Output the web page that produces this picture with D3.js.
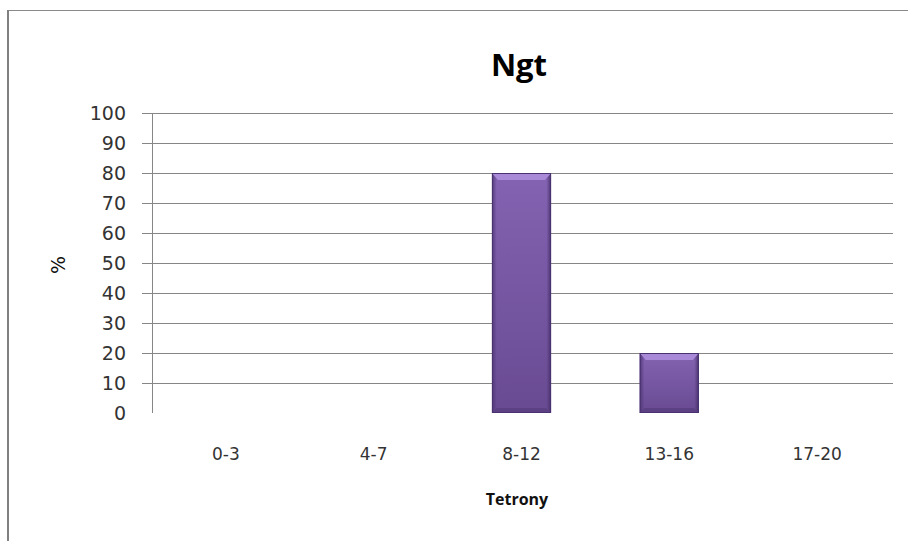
<!DOCTYPE html>
<html>
<head>
<meta charset="utf-8">
<script src="https://cdn.jsdelivr.net/npm/d3@7"></script>
<style>
  body { margin: 0; background: #fff; }
  svg { display: block; }
</style>
</head>
<body>
<svg width="908" height="541"></svg>
<script>
// data
const categories = ["0-3", "4-7", "8-12", "13-16", "17-20"]
const percent = [0, 0, 80, 20, 0]
const yTicks = [0, 10, 20, 30, 40, 50, 60, 70, 80, 90, 100]

let svg = d3.select("svg")

// frame of the chart box (only top and left edges are visible)
svg.append("line")
  .attr("x1", 7).attr("x2", 908).attr("y1", 10.5).attr("y2", 10.5)
  .attr("stroke", "#8a8a8a").attr("stroke-width", 1)
svg.append("line")
  .attr("x1", 8).attr("x2", 8).attr("y1", 10).attr("y2", 541)
  .attr("stroke", "#808080").attr("stroke-width", 2)

let plotLeft = 152, plotRight = 891, plotTop = 113, plotBottom = 413

let x = d3.scaleBand()
  .domain(categories)
  .range([plotLeft, plotRight])
  .paddingInner(0.6)
  .paddingOuter(0.3)

let y = d3.scaleLinear()
  .domain([0, 100])
  .range([plotBottom, plotTop])

// gridlines + ticks
let g = svg.append("g")
g.selectAll("line.grid")
  .data(yTicks.filter(d => d > 0))
  .join("line")
  .attr("class", "grid")
  .attr("x1", plotLeft - 10)
  .attr("x2", plotRight + 2)
  .attr("y1", d => Math.round(y(d)) + 0.5)
  .attr("y2", d => Math.round(y(d)) + 0.5)
  .attr("stroke", "#868686")
  .attr("stroke-width", 1)

g.append("line")
  .attr("x1", plotLeft + 0.5).attr("x2", plotLeft + 0.5)
  .attr("y1", y(100)).attr("y2", y(0))
  .attr("stroke", "#868686")

g.selectAll("text.ylab")
  .data(yTicks)
  .join("text")
  .attr("class", "ylab")
  .attr("x", 126)
  .attr("y", d => y(d) + 7)
  .attr("text-anchor", "end")
  .attr("font-family", "DejaVu Sans")
  .attr("font-size", "19px")
  .attr("fill", "#333")
  .text(d => d)

// bars
let defs = svg.append("defs")
let grad = defs.append("linearGradient")
  .attr("id", "barFill")
  .attr("x1", 0).attr("x2", 0).attr("y1", 0).attr("y2", 1)
grad.append("stop").attr("offset", "0%").attr("stop-color", "#8463b2")
grad.append("stop").attr("offset", "100%").attr("stop-color", "#684a92")

let side = defs.append("linearGradient")
  .attr("id", "barSide")
  .attr("x1", 0).attr("x2", 1).attr("y1", 0).attr("y2", 0)
side.append("stop").attr("offset", "0%").attr("stop-color", "#4e3675").attr("stop-opacity", 0.9)
side.append("stop").attr("offset", "8%").attr("stop-color", "#4e3675").attr("stop-opacity", 0)
side.append("stop").attr("offset", "92%").attr("stop-color", "#4e3675").attr("stop-opacity", 0)
side.append("stop").attr("offset", "100%").attr("stop-color", "#3f2a60").attr("stop-opacity", 0.9)

let barData = categories.map((c, i) => ({ cat: c, val: percent[i] })).filter(d => d.val > 0)

let bars = svg.append("g").selectAll("g")
  .data(barData)
  .join("g")

bars.append("rect")
  .attr("x", d => x(d.cat))
  .attr("y", d => y(d.val))
  .attr("width", x.bandwidth())
  .attr("height", d => y(0) - y(d.val))
  .attr("fill", "url(#barFill)")

bars.append("rect")
  .attr("x", d => x(d.cat))
  .attr("y", d => y(d.val))
  .attr("width", x.bandwidth())
  .attr("height", d => y(0) - y(d.val))
  .attr("fill", "url(#barSide)")

// top bevel
bars.append("path")
  .attr("d", d => {
    let x0 = x(d.cat), x1 = x0 + x.bandwidth(), t = y(d.val)
    return "M" + x0 + "," + t + "L" + x1 + "," + t + "L" + (x1 - 6) + "," + (t + 7) + "L" + (x0 + 6) + "," + (t + 7) + "Z"
  })
  .attr("fill", "#a98ad8")

// bottom bevel
bars.append("path")
  .attr("d", d => {
    let x0 = x(d.cat), x1 = x0 + x.bandwidth(), b = y(0)
    return "M" + x0 + "," + b + "L" + x1 + "," + b + "L" + (x1 - 5) + "," + (b - 5) + "L" + (x0 + 5) + "," + (b - 5) + "Z"
  })
  .attr("fill", "#5b4083")

bars.append("rect")
  .attr("x", d => x(d.cat) + 0.5)
  .attr("y", d => y(d.val) + 0.5)
  .attr("width", x.bandwidth() - 1)
  .attr("height", d => y(0) - y(d.val) - 1)
  .attr("fill", "none")
  .attr("stroke", "#4a3270")
  .attr("stroke-width", 1)

// x labels
svg.append("g").selectAll("text")
  .data(categories)
  .join("text")
  .attr("x", d => x(d) + x.bandwidth() / 2)
  .attr("y", 460)
  .attr("text-anchor", "middle")
  .attr("font-family", "DejaVu Sans")
  .attr("font-size", "17px")
  .attr("fill", "#333")
  .text(d => d)

// titles
svg.append("text")
  .attr("x", 519)
  .attr("y", 76)
  .attr("text-anchor", "middle")
  .attr("font-family", "Open Sans")
  .attr("font-weight", "bold")
  .attr("font-size", "31px")
  .attr("fill", "#000")
  .text("Ngt")

svg.append("text")
  .attr("x", 517)
  .attr("y", 505)
  .attr("text-anchor", "middle")
  .attr("font-family", "Open Sans")
  .attr("font-weight", "bold")
  .attr("font-size", "16px")
  .attr("fill", "#111")
  .text("Tetrony")

svg.append("text")
  .attr("transform", "translate(65,265) rotate(-90)")
  .attr("text-anchor", "middle")
  .attr("font-family", "DejaVu Sans")
  .attr("font-size", "19px")
  .attr("fill", "#111")
  .text("%")
</script>
</body>
</html>
